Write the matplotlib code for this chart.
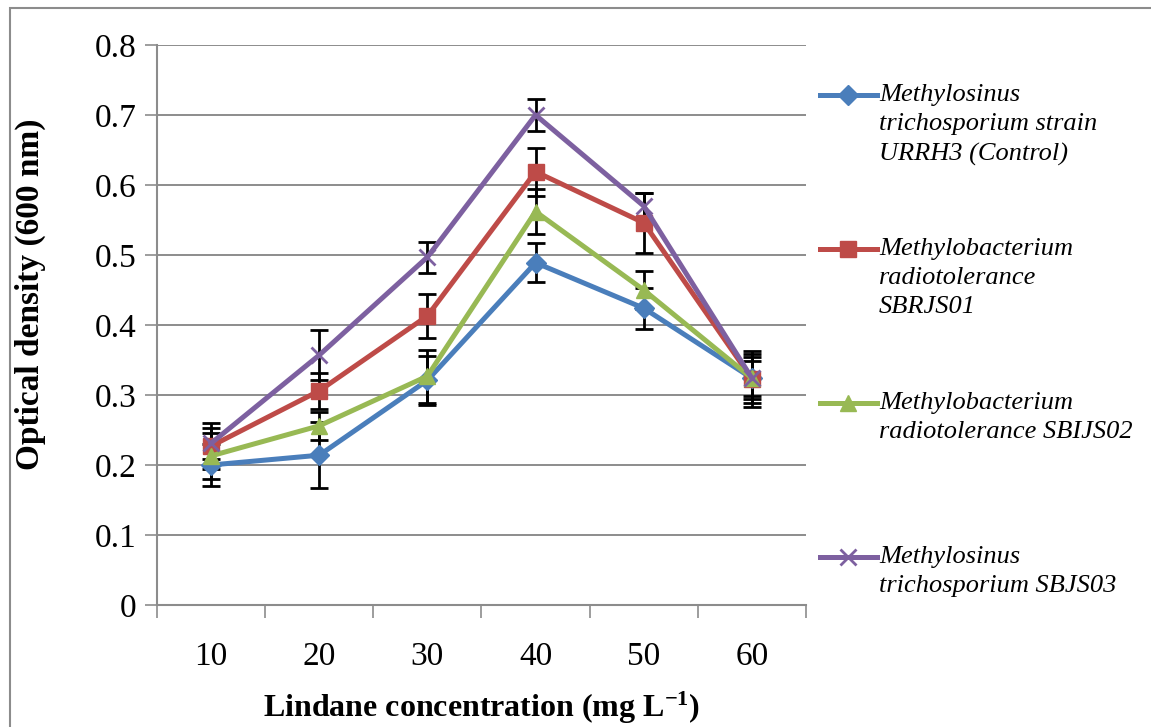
import matplotlib
matplotlib.use("Agg")
import matplotlib.pyplot as plt
from matplotlib.lines import Line2D
from matplotlib.patches import Rectangle
import numpy as np

plt.rcParams['font.family'] = ['Liberation Serif', 'DejaVu Serif']
plt.rcParams['mathtext.fontset'] = 'custom'
plt.rcParams['mathtext.rm'] = 'Liberation Serif'
plt.rcParams['mathtext.bf'] = 'Liberation Serif:bold'
plt.rcParams['mathtext.it'] = 'Liberation Serif:italic'

concentrations = ["10", "20", "30", "40", "50", "60"]

control_od = [0.200, 0.214, 0.321, 0.489, 0.424, 0.324]
control_err = [0.030, 0.047, 0.035, 0.028, 0.029, 0.035]

sbrjs01_od = [0.227, 0.306, 0.413, 0.619, 0.546, 0.323]
sbrjs01_err = [0.033, 0.026, 0.032, 0.034, 0.043, 0.040]

sbijs02_od = [0.213, 0.256, 0.327, 0.562, 0.450, 0.324]
sbijs02_err = [0.033, 0.020, 0.038, 0.032, 0.027, 0.030]

sbjs03_od = [0.231, 0.357, 0.497, 0.700, 0.570, 0.324]
sbjs03_err = [0.022, 0.036, 0.022, 0.023, 0.018, 0.025]

series_labels = [
    "Methylosinus\ntrichosporium strain\nURRH3 (Control)",
    "Methylobacterium\nradiotolerance\nSBRJS01",
    "Methylobacterium\nradiotolerance SBIJS02",
    "Methylosinus\ntrichosporium SBJS03",
]

colors = ["#4A7EBB", "#BE4B48", "#98B954", "#7D60A0"]
markers = ["D", "s", "^", "x"]
msizes = [10, 12, 12, 12]

fig = plt.figure(figsize=(11.51, 7.27), dpi=100)
W, H = 1151, 727

# outer chart frame
fig.add_artist(Rectangle((10 / W, -0.05), 1.2, 1 - 8 / H + 0.05,
                         transform=fig.transFigure, fill=False,
                         edgecolor="#8c8c8c", linewidth=1.5))

ax = fig.add_axes([157 / W, 1 - 605 / H, (806 - 157) / W, (605 - 45) / H])

x = np.arange(len(concentrations))
all_od = [control_od, sbrjs01_od, sbijs02_od, sbjs03_od]
all_err = [control_err, sbrjs01_err, sbijs02_err, sbjs03_err]

for od, err in zip(all_od, all_err):
    ax.errorbar(x, od, yerr=err, fmt="none", ecolor="black",
                elinewidth=2.0, capsize=6.5, capthick=2.0, zorder=3)
for od, c, m, ms in zip(all_od, colors, markers, msizes):
    mew = 2.0 if m == "x" else 1.0
    ax.plot(x, od, color=c, linewidth=3.6, marker=m, markersize=ms,
            markeredgecolor=c, markerfacecolor=c, markeredgewidth=mew,
            zorder=4)

ax.set_xlim(-0.5, len(concentrations) - 0.5)
ax.set_ylim(0, 0.8)
ax.set_yticks(np.arange(0, 0.81, 0.1))
ax.set_yticklabels(["0", "0.1", "0.2", "0.3", "0.4", "0.5", "0.6", "0.7", "0.8"])
ax.set_xticks(x)
ax.set_xticklabels(concentrations)
ax.set_xticks(np.arange(-0.5, len(concentrations)), minor=True)
ax.tick_params(axis="x", which="major", length=0, pad=26, labelsize=24)
ax.tick_params(axis="x", which="minor", length=9, width=1.2, color="#8c8c8c")
ax.tick_params(axis="y", length=9, width=1.2, color="#8c8c8c", pad=6,
               labelsize=24)

ax.grid(axis="y", color="#8c8c8c", linewidth=1.4)
ax.set_axisbelow(True)
for side in ("top", "right"):
    ax.spines[side].set_visible(False)
for side in ("left", "bottom"):
    ax.spines[side].set_color("#8c8c8c")
    ax.spines[side].set_linewidth(1.5)

fig.text(30 / W, 1 - 294 / H, "Optical density (600 nm)", rotation=90,
         ha="center", va="center", fontsize=24, fontweight="bold")
fig.text(482 / W, 1 - 708 / H, "Lindane concentration (mg L$^{\\mathbf{-1}}$)",
         ha="center", va="center", fontsize=23, fontweight="bold")

# legend drawn beside the axes
legend_y = [95, 249, 403, 557]
for ly, lab, c, m, ms in zip(legend_y, series_labels, colors, markers, msizes):
    yf = 1 - ly / H
    mew = 2.0 if m == "x" else 1.0
    fig.add_artist(Line2D([820 / W, 877 / W], [yf, yf], transform=fig.transFigure,
                          color=c, linewidth=3.6))
    fig.add_artist(Line2D([848.5 / W], [yf], transform=fig.transFigure,
                          color=c, marker=m, markersize=ms, markeredgecolor=c,
                          markerfacecolor=c, markeredgewidth=mew, linestyle="none"))
    fig.text(879 / W, yf + 11 / H, lab, ha="left", va="top", fontsize=19,
             fontstyle="italic", linespacing=1.42)

fig.savefig("out.png", dpi=100)
